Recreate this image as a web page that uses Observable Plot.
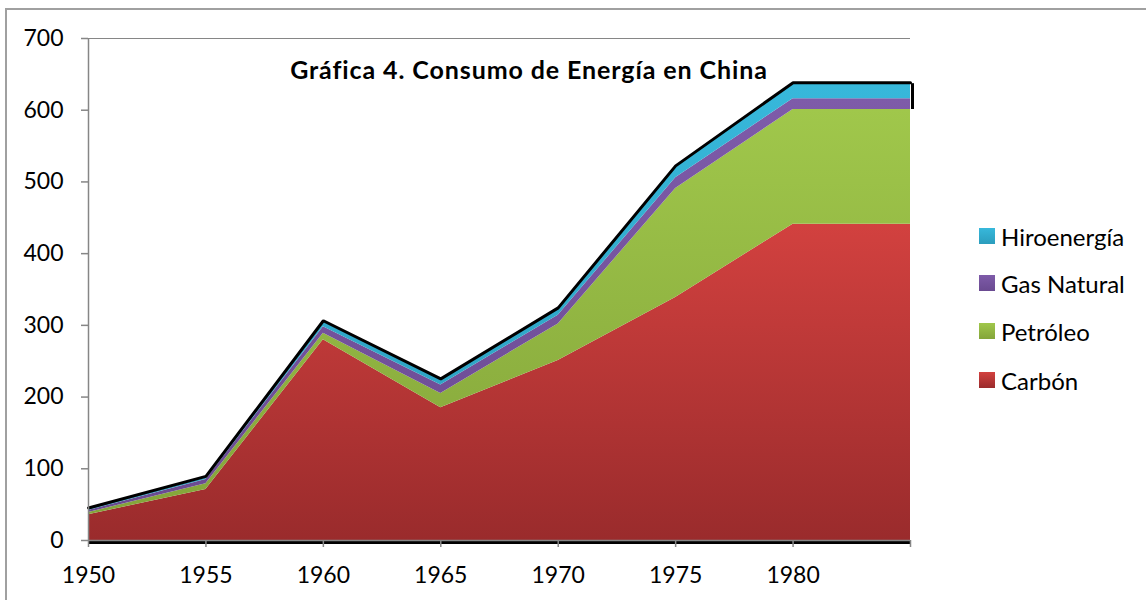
<!DOCTYPE html>
<html>
<head>
<meta charset="utf-8">
<script src="https://cdn.jsdelivr.net/npm/d3@7"></script>
<script src="https://cdn.jsdelivr.net/npm/@observablehq/plot@0.6"></script>
<style>
  html, body { margin: 0; padding: 0; background: #fff; }
  #wrap { position: relative; width: 1146px; height: 600px; overflow: hidden; font-family: Lato, "Open Sans", sans-serif; }
  #frame { position: absolute; left: 5px; top: 8px; width: 1200px; height: 700px; border: 2px solid #a0a0a0; box-sizing: border-box; }
  #title { position: absolute; left: 0; top: 54px; width: 1058px; text-align: center; font-weight: bold; font-size: 25px; letter-spacing: 0.9px; color: #000; }
  .leg { position: absolute; left: 979px; font-size: 24px; color: #000; display: flex; align-items: center; }
  .leg span.sw { display: inline-block; width: 16px; height: 16px; margin-right: 6px; }
  #chart { position: absolute; left: 0; top: 0; }
</style>
</head>
<body>
<div id="wrap">
  <div id="frame"></div>
  <div id="chart"></div>
  <div id="title"></div>
  <div id="legend"></div>
</div>
<script>
// ---- data ----
const years = [1950, 1955, 1960, 1965, 1970, 1975, 1980, 1985];
const xTickLabels = ["1950", "1955", "1960", "1965", "1970", "1975", "1980", ""];
const seriesNames = ["Carbón", "Petróleo", "Gas Natural", "Hiroenergía"];
const carbon   = [36, 71, 280, 185, 251, 339, 441, 441];
const petroleo = [3, 8, 9, 20, 51, 152, 160, 160];
const gas      = [3, 6, 9, 12, 12, 15, 15, 15];
const hidro    = [2, 3, 7, 7, 9, 15, 21, 21];
const yTicks = [0, 100, 200, 300, 400, 500, 600, 700];
const titleText = "Gráfica 4. Consumo de Energía en China";

// gradient colours per series (top, bottom)
const grads = [
  ["gC", "#d2413f", "#9a2b2c"],
  ["gP", "#a0c74b", "#84a53a"],
  ["gG", "#7e5ba9", "#6a4a91"],
  ["gH", "#37b8db", "#2b9dbd"]
];

const valuesBySeries = [carbon, petroleo, gas, hidro];
const data = [];
seriesNames.forEach((s, si) => {
  years.forEach((yr, i) => data.push({ year: yr, serie: s, value: valuesBySeries[si][i] }));
});
const totals = years.map((yr, i) => ({ year: yr, total: carbon[i] + petroleo[i] + gas[i] + hidro[i], lower: carbon[i] + petroleo[i] }));
const last = totals[totals.length - 1];

const gray = "#868686";

const svg = Plot.plot({
  width: 1146,
  height: 600,
  marginLeft: 88,
  marginRight: 236,
  marginTop: 38,
  marginBottom: 60,
  style: { fontFamily: "Lato, 'Open Sans', sans-serif", fontSize: "22px", color: "#000", background: "transparent" },
  x: { domain: [1950, 1985] },
  y: { domain: [0, 700] },
  color: { type: "ordinal", domain: seriesNames, range: grads.map(g => `url(#${g[0]})`) },
  marks: [
    Plot.ruleY([700], { stroke: gray, strokeWidth: 1 }),
    Plot.ruleY([0], { stroke: "#000", strokeWidth: 3, dy: 2 }),
    Plot.areaY(data, { x: "year", y: "value", fill: "serie", z: "serie", order: seriesNames }),
    Plot.line(totals, { x: "year", y: "total", stroke: "#000", strokeWidth: 3, dy: -1, strokeLinejoin: "miter" }),
    Plot.ruleX([last], { x: "year", y1: "lower", y2: "total", stroke: "#000", strokeWidth: 3, dx: 2 }),
    Plot.ruleX([1950], { stroke: gray, strokeWidth: 1.5 }),
    Plot.ruleY([0], { stroke: gray, strokeWidth: 1.5 }),
    Plot.axisY({ ticks: yTicks, tickSize: 7, tickPadding: 18, stroke: gray, strokeWidth: 1.5, label: null, fontSize: 23 }),
    Plot.axisX({ ticks: years, tickSize: 7, tickPadding: 19, stroke: gray, strokeWidth: 1.5, label: null, fontSize: 23,
      tickFormat: (d) => xTickLabels[years.indexOf(d)] })
  ]
});

// gradients
const defs = d3.select(svg).insert("defs", ":first-child");
grads.forEach(([id, top, bottom]) => {
  const lg = defs.append("linearGradient").attr("id", id).attr("x1", 0).attr("y1", 0).attr("x2", 0).attr("y2", 1);
  lg.append("stop").attr("offset", "0%").attr("stop-color", top);
  lg.append("stop").attr("offset", "100%").attr("stop-color", bottom);
});

document.getElementById("chart").appendChild(svg);
document.getElementById("title").textContent = titleText;

// legend (top to bottom: reverse stack order)
const legendY = [236, 283, 331, 380];
const legend = document.getElementById("legend");
seriesNames.slice().reverse().forEach((s, i) => {
  const idx = seriesNames.indexOf(s);
  const row = document.createElement("div");
  row.className = "leg";
  row.style.top = (legendY[i] - 14) + "px";
  row.style.height = "28px";
  const sw = document.createElement("span");
  sw.className = "sw";
  sw.style.background = `linear-gradient(${grads[idx][1]}, ${grads[idx][2]})`;
  row.appendChild(sw);
  row.appendChild(document.createTextNode(s));
  legend.appendChild(row);
});
</script>
</body>
</html>
